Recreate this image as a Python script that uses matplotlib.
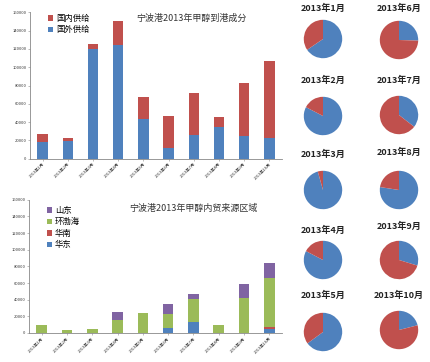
import matplotlib
matplotlib.use("Agg")
import matplotlib.pyplot as plt
import numpy as np

plt.rcParams['font.family'] = ['Noto Sans CJK SC', 'DejaVu Sans']

months = ["2013年1月", "2013年2月", "2013年3月", "2013年4月", "2013年5月",
          "2013年6月", "2013年7月", "2013年8月", "2013年9月", "2013年10月"]

# Top chart: imports (国外供给) and domestic (国内供给)
foreign = [18000, 19000, 120000, 124000, 43500, 12000, 25500, 35000, 24500, 22500]
domestic = [9500, 4000, 5500, 26000, 23500, 35000, 46300, 10200, 58000, 84500]

# Bottom chart: domestic source regions
huadong = [0, 0, 0, 0, 0, 5600, 12800, 0, 0, 4800]
huanan = [0, 0, 0, 0, 0, 0, 0, 0, 0, 2800]
huanbohai = [9600, 3600, 5200, 15600, 23600, 17200, 28000, 9600, 42400, 58800]
shandong = [0, 0, 0, 10000, 0, 12000, 6000, 0, 16000, 18000]

BLUE = '#4F81BD'
RED = '#C0504D'
GREEN = '#9BBB59'
PURPLE = '#8064A2'

W, H = 430, 362
fig = plt.figure(figsize=(W / 100, H / 100), dpi=100)


def px_axes(left, top, right, bottom):
    return fig.add_axes([left / W, 1 - bottom / H, (right - left) / W, (bottom - top) / H])


def style(ax):
    for s in ['top', 'right']:
        ax.spines[s].set_visible(False)
    for s in ['left', 'bottom']:
        ax.spines[s].set_color('#888888')
        ax.spines[s].set_linewidth(0.6)
    ax.set_ylim(0, 160000)
    ax.set_yticks(np.arange(0, 160001, 20000))
    ax.set_xlim(-0.5, len(months) - 0.5)
    ax.set_xticks(range(len(months)))
    ax.set_xticklabels(months, rotation=45, ha='right', rotation_mode='anchor', fontsize=3)
    ax.tick_params(axis='both', labelsize=3, length=1.5, width=0.4, colors='#888888', labelcolor='#333333', pad=1)


x = np.arange(len(months))
bw = 0.42

ax1 = px_axes(30, 12.3, 282, 158.7)
b1 = ax1.bar(x, foreign, bw, color=BLUE, label='国外供给')
b2 = ax1.bar(x, domestic, bw, bottom=foreign, color=RED, label='国内供给')
style(ax1)
ax1.legend(handles=[b2, b1], loc='upper left', bbox_to_anchor=(0.04, 1.04), frameon=False,
           fontsize=6, handlelength=0.7, handleheight=0.7, handletextpad=0.3, labelspacing=0.3)
ax1.text(0.64, 0.99, '宁波港2013年甲醇到港成分', transform=ax1.transAxes, ha='center', va='top',
         fontsize=6.5, color='#333333')

ax2 = px_axes(29, 199.7, 282, 333)
c1 = ax2.bar(x, huadong, bw, color=BLUE, label='华东')
bot = np.array(huadong, dtype=float)
c2 = ax2.bar(x, huanan, bw, bottom=bot, color=RED, label='华南')
bot = bot + huanan
c3 = ax2.bar(x, huanbohai, bw, bottom=bot, color=GREEN, label='环渤海')
bot = bot + huanbohai
c4 = ax2.bar(x, shandong, bw, bottom=bot, color=PURPLE, label='山东')
style(ax2)
ax2.legend(handles=[c4, c3, c2, c1], loc='upper left', bbox_to_anchor=(0.04, 1.01), frameon=False,
           fontsize=6, handlelength=0.7, handleheight=0.7, handletextpad=0.3, labelspacing=0.3)
ax2.text(0.65, 0.97, '宁波港2013年甲醇内贸来源区域', transform=ax2.transAxes, ha='center', va='top',
         fontsize=6.5, color='#333333')

# Pies
col_x = [323, 399]
row_y = [[39, 116, 190, 260, 332], [40, 115, 190, 260, 330]]
title_y = [[8, 80, 154, 230, 295], [8, 80, 152, 226, 295]]
r = 24
for i, m in enumerate(months):
    c = i // 5
    rr = i % 5
    cx, cy = col_x[c], row_y[c][rr]
    axp = px_axes(cx - r, cy - r, cx + r, cy + r)
    axp.pie([foreign[i], domestic[i]], colors=[BLUE, RED], startangle=90, counterclock=False,
            wedgeprops=dict(linewidth=0))
    axp.set_aspect('equal')
    fig.text(cx / W, 1 - title_y[c][rr] / H, m, ha='center', va='center', fontsize=6.5,
             fontweight='bold', color='#222222')

fig.savefig('out.png', dpi=100)
